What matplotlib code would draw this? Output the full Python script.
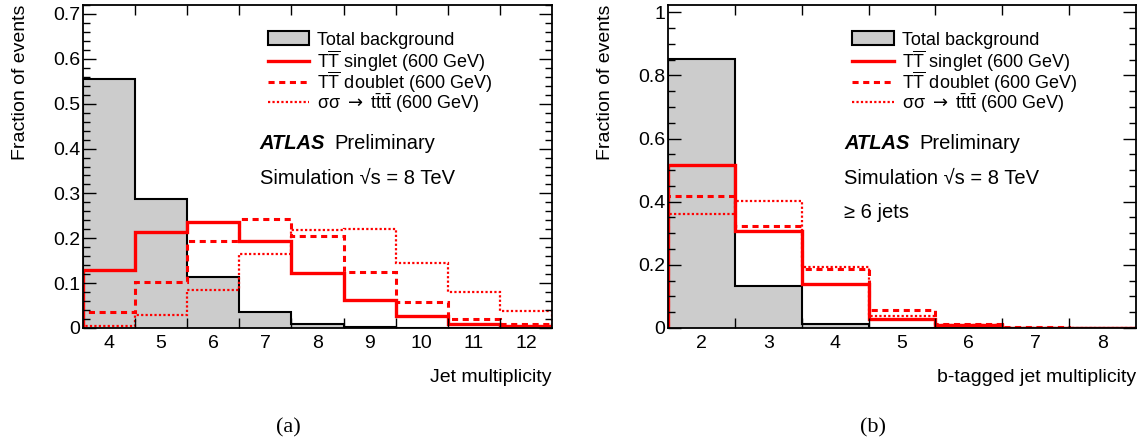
import matplotlib
matplotlib.use('Agg')
import matplotlib.pyplot as plt
import numpy as np
from matplotlib.patches import Patch
from matplotlib.lines import Line2D
from matplotlib.legend import Legend
from matplotlib.ticker import FixedLocator, MultipleLocator, FuncFormatter

plt.rcParams['font.family'] = ['Liberation Sans', 'DejaVu Sans']
plt.rcParams['mathtext.fontset'] = 'custom'
plt.rcParams['mathtext.rm'] = 'Liberation Sans'
plt.rcParams['mathtext.it'] = 'Liberation Sans:italic'
plt.rcParams['mathtext.bf'] = 'Liberation Sans:bold'
plt.rcParams['mathtext.sf'] = 'DejaVu Sans'

# (a) jet multiplicity
jets = [4, 5, 6, 7, 8, 9, 10, 11, 12]
jets_bkg = [0.554, 0.287, 0.114, 0.036, 0.010, 0.002, 0.001, 0.0, 0.0]
jets_singlet = [0.129, 0.213, 0.237, 0.194, 0.123, 0.062, 0.027, 0.010, 0.004]
jets_doublet = [0.035, 0.103, 0.194, 0.244, 0.206, 0.124, 0.059, 0.021, 0.008]
jets_tttt = [0.004, 0.028, 0.084, 0.166, 0.218, 0.220, 0.146, 0.080, 0.037]

# (b) b-tagged jet multiplicity, >= 6 jets
bjets = [2, 3, 4, 5, 6, 7, 8]
bjets_bkg = [0.853, 0.133, 0.013, 0.001, 0.0, 0.0, 0.0]
bjets_singlet = [0.517, 0.308, 0.139, 0.029, 0.008, 0.001, 0.001]
bjets_doublet = [0.417, 0.322, 0.187, 0.057, 0.013, 0.002, 0.001]
bjets_tttt = [0.362, 0.401, 0.194, 0.039, 0.010, 0.001, 0.0]

labels = ['Total background',
          r'$\mathrm{T\overline{T}}$ singlet (600 GeV)',
          r'$\mathrm{T\overline{T}}$ doublet (600 GeV)',
          r'$\mathrm{\sigma\sigma}\ \mathsf{\rightarrow}\ \mathrm{t\bar{t}t\bar{t}}$ (600 GeV)']

W, H = 1144, 443
fig = plt.figure(figsize=(W / 100, H / 100), dpi=100)
FS = 14


def panel(rect, bins, bkg, sing, doub, tttt, ymax, ymaj, ymin, xlabel, tag, tagx, extra=None):
    ax = fig.add_axes(rect)
    bins = np.array(bins)
    edges = np.append(bins - 0.5, bins[-1] + 0.5)
    ax.stairs(bkg, edges, fill=True, color='#cccccc', lw=0)
    ax.stairs(bkg, edges, color='black', lw=1.5)
    ax.stairs(tttt, edges, color='red', lw=1.6, ls=(0, (1, 1)))
    ax.stairs(doub, edges, color='red', lw=2.2, ls=(0, (2, 1.5)))
    ax.stairs(sing, edges, color='red', lw=2.4)
    ax.set_xlim(edges[0], edges[-1])
    ax.set_ylim(0, ymax)

    ax.xaxis.set_major_locator(FixedLocator(edges[1:-1]))
    ax.xaxis.set_minor_locator(FixedLocator(bins))
    ax.xaxis.set_major_formatter(FuncFormatter(lambda v, p: ''))
    ax.xaxis.set_minor_formatter(FuncFormatter(lambda v, p: f'{v:g}'))
    ax.tick_params(axis='x', which='major', direction='in', length=7.5, width=1,
                   top=True, bottom=True)
    ax.tick_params(axis='x', which='minor', length=0, labelsize=FS, pad=5)

    ax.yaxis.set_major_locator(MultipleLocator(ymaj))
    ax.yaxis.set_minor_locator(MultipleLocator(ymin))
    ax.yaxis.set_major_formatter(FuncFormatter(lambda v, p: f'{v:g}'))
    ax.tick_params(axis='y', which='major', direction='in', length=9.5, width=1,
                   left=True, right=True, labelsize=FS, pad=2)
    ax.tick_params(axis='y', which='minor', direction='in', length=5, width=1,
                   left=True, right=True)
    for s in ax.spines.values():
        s.set_linewidth(1.3)

    ax.set_ylabel('Fraction of events', fontsize=FS, loc='top')
    ax.yaxis.set_label_coords(-0.115, 1.0)
    ax.set_xlabel(xlabel, fontsize=FS, loc='right', labelpad=12)

    handles = [Patch(facecolor='#cccccc', edgecolor='black', lw=1.5),
               Line2D([], [], color='red', lw=2.4),
               Line2D([], [], color='red', lw=2.2, ls=(0, (2, 1.5))),
               Line2D([], [], color='red', lw=1.6, ls=(0, (1, 1)))]
    # one legend per row so that every row gets the same spacing
    for i, (h, lab) in enumerate(zip(handles, labels)):
        leg = Legend(ax, [h], [lab], loc='center left',
                     bbox_to_anchor=(0.394, 0.8916 - i * 0.065),
                     frameon=False, fontsize=13, handlelength=2.3,
                     handleheight=0.8, handletextpad=0.45,
                     borderaxespad=0, borderpad=0)
        ax.add_artist(leg)

    ax.text(0.377, 0.57, 'ATLAS', transform=ax.transAxes, fontsize=14.5,
            fontweight='bold', fontstyle='italic', va='center')
    ax.text(0.537, 0.57, 'Preliminary', transform=ax.transAxes, fontsize=14.5,
            va='center')
    ax.text(0.377, 0.464, 'Simulation √s = 8 TeV',
            transform=ax.transAxes, fontsize=14.5, va='center')
    if extra:
        ax.text(0.377, 0.359, extra, transform=ax.transAxes, fontsize=14.5,
                va='center')
    fig.text(tagx, 0.034, tag, family='Liberation Serif',
             fontsize=16, ha='center', va='center')
    return ax


panel([83 / W, 115 / H, 469 / W, 323 / H], jets, jets_bkg, jets_singlet,
      jets_doublet, jets_tttt, 0.72, 0.1, 0.02, 'Jet multiplicity', '(a)', 0.2517)
panel([668 / W, 115 / H, 468 / W, 323 / H], bjets, bjets_bkg, bjets_singlet,
      bjets_doublet, bjets_tttt, 1.023, 0.2, 0.05, 'b-tagged jet multiplicity',
      '(b)', 0.763, extra='≥ 6 jets')

fig.savefig('out.png', dpi=100)
